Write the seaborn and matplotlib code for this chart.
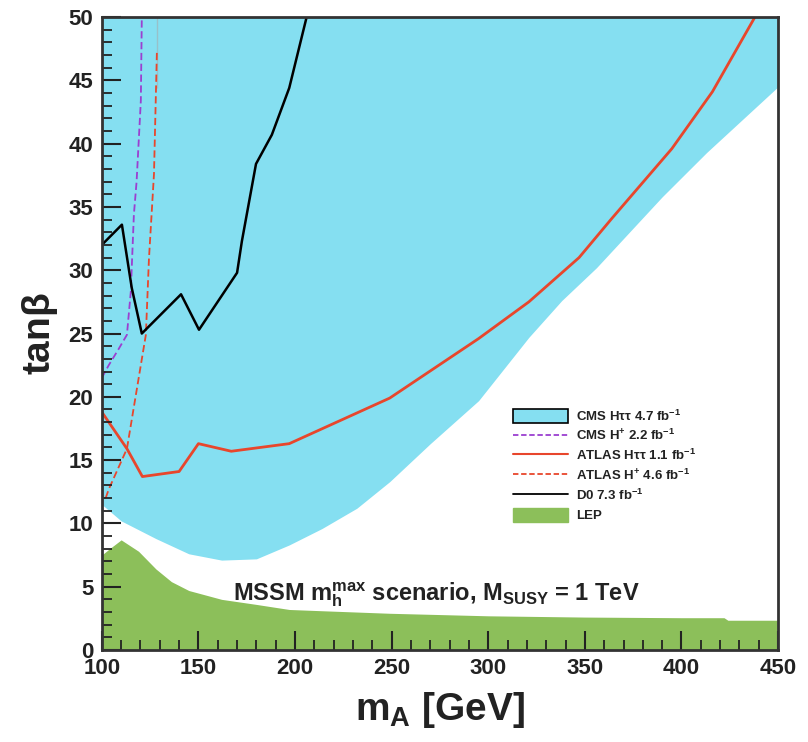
import numpy as np
import pandas as pd
import matplotlib
matplotlib.use("Agg")
import matplotlib.pyplot as plt
import seaborn as sns
from matplotlib.patches import Patch
from matplotlib.lines import Line2D
from matplotlib.ticker import MultipleLocator

# ---- data ----
cms_htt_m = [100, 110, 128, 145, 162, 180, 197, 214, 232, 249, 270, 295, 321, 338, 356, 390, 413, 450]
cms_htt_lo = [11.5, 10.2, 8.8, 7.6, 7.1, 7.2, 8.3, 9.6, 11.2, 13.3, 16.3, 19.7, 24.7, 27.6, 30.2, 35.8, 39.3, 44.5]

lep_m = [100, 104, 110, 119, 128, 136, 145, 162, 180, 197, 214, 249, 300, 350, 400, 422, 424, 450]
lep_t = [7.5, 8.0, 8.7, 7.8, 6.4, 5.4, 4.7, 4.0, 3.6, 3.2, 3.1, 2.9, 2.7, 2.6, 2.55, 2.55, 2.35, 2.35]

atlas_htt_m = [100, 113, 121, 140, 150, 167, 197, 249, 295, 321, 347, 364, 395, 416, 438]
atlas_htt_t = [18.8, 15.9, 13.7, 14.1, 16.3, 15.7, 16.3, 19.9, 24.6, 27.5, 31.0, 34.1, 39.6, 44.1, 50.0]

atlas_hp_m = [102, 103.6, 113, 122.8, 124.4, 127, 128.5, 128.5]
atlas_hp_t = [12.0, 12.7, 15.9, 24.9, 30.9, 37.6, 44.4, 50.0]

cms_hp_m = [100, 103.6, 108.8, 113, 115, 116.6, 118, 120.2, 120.7]
cms_hp_t = [21.5, 22.5, 23.8, 24.9, 28.3, 34.4, 37.0, 43.4, 50.0]

d0_m = [100, 110.4, 115.5, 120.7, 141, 150.3, 170, 172.5, 179.8, 188, 197, 206]
d0_t = [32.0, 33.6, 28.6, 25.0, 28.1, 25.3, 29.8, 32.3, 38.4, 40.7, 44.4, 50.0]

legend_labels = [r"CMS H$\tau\tau$ 4.7 fb$^{-1}$", r"CMS H$^{+}$ 2.2 fb$^{-1}$",
                 r"ATLAS H$\tau\tau$ 1.1 fb$^{-1}$", r"ATLAS H$^{+}$ 4.6 fb$^{-1}$",
                 r"D0 7.3 fb$^{-1}$", "LEP"]

# ---- style ----
sns.set_theme(style="ticks")
plt.rcParams['font.family'] = ['Liberation Sans Narrow', 'Liberation Sans', 'DejaVu Sans']
plt.rcParams['mathtext.fontset'] = 'custom'
plt.rcParams['mathtext.rm'] = 'Liberation Sans:bold'
plt.rcParams['mathtext.it'] = 'Liberation Sans:bold'
plt.rcParams['mathtext.bf'] = 'Liberation Sans:bold'
plt.rcParams['axes.axisbelow'] = False

blue = "#85DFF1"
green = "#8CBF5A"
red = "#E8462C"
purple = "#9B3FD0"

fig = plt.figure(figsize=(8.08, 7.42), dpi=100)
ax = fig.add_axes([0.126, 0.124, 0.837, 0.853])
ax.set_axisbelow(False)

# CMS H tautau excluded region
ax.fill_between(cms_htt_m, cms_htt_lo, 50, color=blue, lw=0, zorder=1)
# LEP
ax.fill_between(lep_m, 0, lep_t, color=green, lw=0, zorder=1.5)

df_atlas = pd.DataFrame({"m": atlas_htt_m, "t": atlas_htt_t})
df_atlas_hp = pd.DataFrame({"m": atlas_hp_m, "t": atlas_hp_t})
df_cms_hp = pd.DataFrame({"m": cms_hp_m, "t": cms_hp_t})
df_d0 = pd.DataFrame({"m": d0_m, "t": d0_t})

sns.lineplot(data=df_cms_hp, x="m", y="t", sort=False, ax=ax, color=purple, lw=1.3,
             linestyle=(0, (4, 2)), zorder=4)
sns.lineplot(data=df_atlas_hp, x="m", y="t", sort=False, ax=ax, color=red, lw=1.3,
             linestyle=(0, (4, 2)), zorder=4)
sns.lineplot(data=df_atlas, x="m", y="t", sort=False, ax=ax, color=red, lw=2.0, zorder=5)
sns.lineplot(data=df_d0, x="m", y="t", sort=False, ax=ax, color="black", lw=1.8, zorder=6)

ax.set_xlim(100, 450)
ax.set_ylim(0, 50)
ax.xaxis.set_major_locator(MultipleLocator(50))
ax.xaxis.set_minor_locator(MultipleLocator(10))
ax.yaxis.set_major_locator(MultipleLocator(5))
ax.yaxis.set_minor_locator(MultipleLocator(1))
ax.tick_params(which="major", direction="in", length=14, width=1.5, color="#222222",
               labelsize=16, top=False, right=False, pad=6)
ax.tick_params(which="minor", direction="in", length=7, width=1.3, color="#222222",
               top=False, right=False)
ax.xaxis.set_zorder(8)
ax.yaxis.set_zorder(8)
for lab in ax.get_xticklabels() + ax.get_yticklabels():
    lab.set_fontweight("bold")
    lab.set_color("#222222")
for s in ax.spines.values():
    s.set_linewidth(2)
    s.set_color("#333333")
    s.set_zorder(10)

ax.set_xlabel(r"m$_{\mathrm{A}}$ [GeV]", fontsize=28, fontweight="bold", color="#222222",
              labelpad=8)
ax.set_ylabel(r"tan$\beta$", fontsize=28, fontweight="bold", color="#222222", labelpad=6)

ax.text(168, 3.9, r"MSSM m$_{\mathrm{h}}^{\mathrm{max}}$ scenario, M$_{\mathrm{SUSY}}$ = 1 TeV",
        fontsize=17, fontweight="bold", color="#222222", zorder=7)

handles = [Patch(facecolor=blue, edgecolor="black", lw=1.2),
           Line2D([], [], color=purple, lw=1.3, linestyle=(0, (3, 1.5))),
           Line2D([], [], color=red, lw=1.5),
           Line2D([], [], color=red, lw=1.3, linestyle=(0, (3, 1.5))),
           Line2D([], [], color="black", lw=1.3),
           Patch(facecolor=green, edgecolor=green)]
leg = ax.legend(handles, legend_labels, loc="upper left", bbox_to_anchor=(0.6, 0.39),
                frameon=False, prop={"weight": "bold", "size": 9.5}, handlelength=4.2,
                handleheight=1.3, labelspacing=0.35, handletextpad=0.6, borderaxespad=0)
leg.set_zorder(9)
for t in leg.get_texts():
    t.set_color("#222222")

fig.savefig("out.png", dpi=100)
